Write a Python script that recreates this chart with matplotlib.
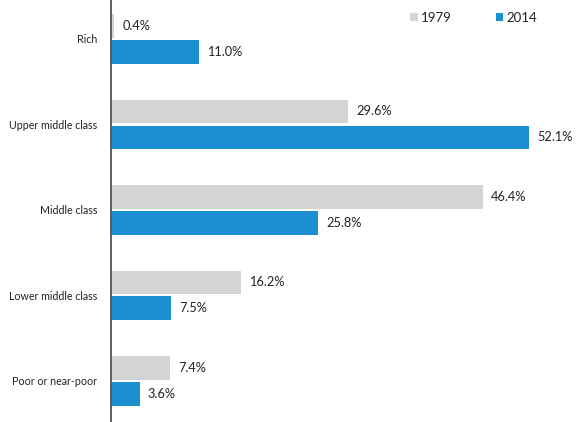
import matplotlib
matplotlib.use("Agg")
import matplotlib.pyplot as plt
import numpy as np

categories = ["Rich", "Upper middle class", "Middle class", "Lower middle class", "Poor or near-poor"]
values_1979 = [0.4, 29.6, 46.4, 16.2, 7.4]
values_2014 = [11.0, 52.1, 25.8, 7.5, 3.6]
series_names = ["1979", "2014"]

plt.rcParams['font.family'] = ['Lato', 'DejaVu Sans']

fig = plt.figure(figsize=(5.8, 4.22), dpi=100)
ax = fig.add_axes([111/580, 0, (580-111)/580, 1])

c79 = "#d4d4d4"
c14 = "#1a8fd1"
y = np.arange(len(categories))
h = 0.28
off = 0.152
ax.barh(y - off, values_1979, height=h, color=c79, label=series_names[0])
ax.barh(y + off, values_2014, height=h, color=c14, label=series_names[1])

for yi, v in zip(y - off, values_1979):
    ax.text(v + 1.0, yi, f"{v:.1f}%", va="center", ha="left", fontsize=9.2, color="#222222")
for yi, v in zip(y + off, values_2014):
    ax.text(v + 1.0, yi, f"{v:.1f}%", va="center", ha="left", fontsize=9.2, color="#222222")

ax.set_xlim(0, (580-111)/8.02)
ax.set_ylim(4.48, -0.456)
ax.set_yticks(y)
ax.set_yticklabels(categories, fontsize=7.7, color="#222222")
ax.tick_params(axis="y", length=0, pad=10)
ax.set_xticks([])
for s in ["top", "right", "bottom"]:
    ax.spines[s].set_visible(False)
ax.spines["left"].set_color("#555555")
ax.spines["left"].set_linewidth(1.3)

leg = ax.legend(loc="upper left", bbox_to_anchor=(402/580, 1 - 4/422), bbox_transform=fig.transFigure,
                ncol=2, frameon=False, fontsize=9.5, handlelength=0.6, handleheight=0.6,
                handletextpad=0.25, columnspacing=3.3, borderaxespad=0.2)
for t in leg.get_texts():
    t.set_color("#222222")

fig.savefig("out.png", dpi=100)
